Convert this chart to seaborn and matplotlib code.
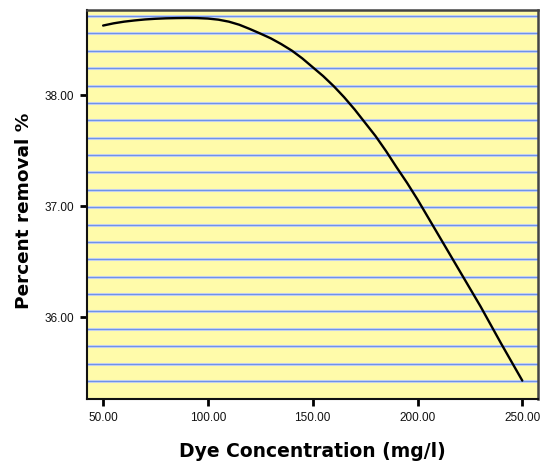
import numpy as np
import pandas as pd
import matplotlib
matplotlib.use("Agg")
import matplotlib.pyplot as plt
import seaborn as sns

# Fitted removal curve: dye concentration (mg/l) vs percent removal
concentration = [50, 55, 60, 65, 70, 75, 80, 85, 90, 95, 100, 105, 110,
                 115, 120, 125, 130, 135, 140, 145, 150, 155, 160, 165,
                 170, 175, 180, 185, 190, 195, 200, 205, 210, 215, 220,
                 225, 230, 235, 240, 245, 250]
removal = [38.625, 38.645, 38.66, 38.671, 38.68, 38.686, 38.69, 38.692,
           38.693, 38.692, 38.688, 38.678, 38.66, 38.632, 38.594, 38.553,
           38.51, 38.458, 38.40, 38.33, 38.25, 38.17, 38.08, 37.98,
           37.87, 37.75, 37.63, 37.495, 37.35, 37.21, 37.06, 36.90,
           36.74, 36.58, 36.42, 36.26, 36.10, 35.93, 35.76, 35.595, 35.43]

x_ticks = [50, 100, 150, 200, 250]
y_ticks = [36, 37, 38]

df = pd.DataFrame({"Dye Concentration (mg/l)": concentration,
                   "Percent removal %": removal})

sns.set_style("white")
plt.rcParams["font.family"] = ["DejaVu Sans"]
plt.rcParams["text.color"] = "black"
plt.rcParams["axes.labelcolor"] = "black"

fig = plt.figure(figsize=(5.41, 4.67), dpi=100)
ax = fig.add_axes([0.160, 0.145, 0.8345, 0.8336])
ax.set_facecolor("#FFFBAA")

# horizontal ruling spanning the range of the fitted values
for gy in np.linspace(35.427, 38.711, 22):
    ax.axhline(gy, color="#D6DDF0", lw=2.2, zorder=1)
    ax.axhline(gy, color="#6F93E8", lw=1.0, zorder=1.5)

sns.lineplot(data=df, x="Dye Concentration (mg/l)", y="Percent removal %",
             ax=ax, color="black", lw=1.7, zorder=3)

ax.set_xlim(42.1, 257.5)
ax.set_ylim(35.262, 38.765)
ax.set_xticks(x_ticks)
ax.set_yticks(y_ticks)
ax.set_xticklabels([f"{v:.2f}" for v in x_ticks])
ax.set_yticklabels([f"{v:.2f}" for v in y_ticks])
ax.tick_params(axis="both", direction="out", length=5, width=2,
               color="black", labelcolor="#111111", pad=4,
               left=True, bottom=True)
for lab in ax.get_xticklabels() + ax.get_yticklabels():
    lab.set_family("Liberation Sans")
    lab.set_fontsize(8.5)

for side in ["left", "bottom"]:
    ax.spines[side].set_color("#111111")
    ax.spines[side].set_linewidth(1.5)
for side in ["top", "right"]:
    ax.spines[side].set_color("#444444")
    ax.spines[side].set_linewidth(1.8)

ax.set_xlabel("Dye Concentration (mg/l)", fontsize=13.5, fontweight="bold",
              labelpad=13, color="black")
ax.set_ylabel("Percent removal %", fontsize=13.3, fontweight="bold",
              labelpad=8.5, color="black")
ax.yaxis.label.set_y(0.483)

fig.savefig("out.png", dpi=100)
